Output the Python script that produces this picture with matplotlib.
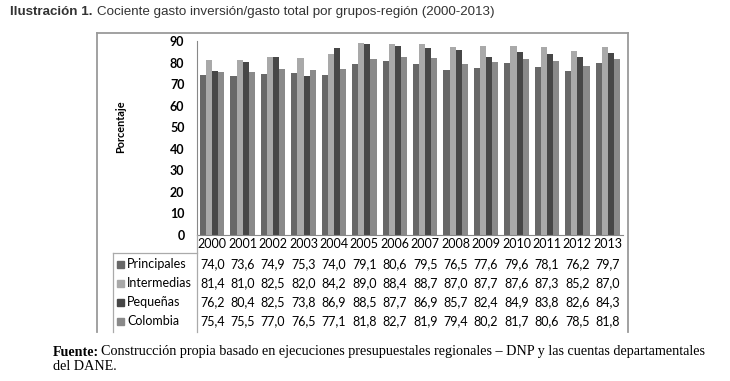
import matplotlib.pyplot as plt
import matplotlib.transforms as mtransforms
from matplotlib.patches import Rectangle
import numpy as np

# Data
years = ['2000', '2001', '2002', '2003', '2004', '2005', '2006',
         '2007', '2008', '2009', '2010', '2011', '2012', '2013']
principales = [74.0, 73.6, 74.9, 75.3, 74.0, 79.1, 80.6, 79.5, 76.5, 77.6, 79.6, 78.1, 76.2, 79.7]
intermedias = [81.4, 81.0, 82.5, 82.0, 84.2, 89.0, 88.4, 88.7, 87.0, 87.7, 87.6, 87.3, 85.2, 87.0]
pequenas = [76.2, 80.4, 82.5, 73.8, 86.9, 88.5, 87.7, 86.9, 85.7, 82.4, 84.9, 83.8, 82.6, 84.3]
colombia = [75.4, 75.5, 77.0, 76.5, 77.1, 81.8, 82.7, 81.9, 79.4, 80.2, 81.7, 80.6, 78.5, 81.8]
series_names = ['Principales', 'Intermedias', 'Pequeñas', 'Colombia']
series = [principales, intermedias, pequenas, colombia]
colors = ['#686868', '#a9a9a9', '#474747', '#8a8a8a']

W, H = 730, 381
fig = plt.figure(figsize=(W / 100, H / 100), dpi=100)
tfont = 'Lato'

def fy(py):
    return 1 - py / H

def fx(px):
    return px / W

# Title
fig.text(fx(10), fy(12), 'Ilustración 1.', fontsize=9.6, fontweight='bold',
         family='Liberation Sans', color='#333333', va='center')
fig.text(fx(97), fy(12), 'Cociente gasto inversión/gasto total por grupos-región (2000-2013)',
         fontsize=9.6, family='Liberation Sans', color='#333333', va='center')

# Chart box (left, top, right)
box_col = '#9a9a9a'
fig.add_artist(plt.Line2D([fx(97), fx(97)], [fy(33), fy(332)], color=box_col, lw=1.3))
fig.add_artist(plt.Line2D([fx(97), fx(628)], [fy(33), fy(33)], color=box_col, lw=1.3))
fig.add_artist(plt.Line2D([fx(628), fx(628)], [fy(33), fy(332)], color=box_col, lw=1.3))

# Bars
ax = fig.add_axes([fx(197), fy(235), fx(623) - fx(197), fy(41) - fy(235)])
x = np.arange(len(years))
bw = 0.2
for i, (vals, c) in enumerate(zip(series, colors)):
    ax.bar(x + (i - 1.5) * bw, vals, width=bw, color=c, edgecolor='none')
ax.set_xlim(-0.5, len(years) - 0.5)
ax.set_ylim(0, 90)
ax.set_yticks(range(0, 91, 10))
ax.set_yticklabels([str(v) for v in range(0, 91, 10)], fontsize=9, fontweight='bold', family=tfont)
ax.tick_params(axis='y', length=0, pad=9)
ax.set_xticks([])
for s in ['top', 'right']:
    ax.spines[s].set_visible(False)
ax.spines['left'].set_color('#888888')
ax.spines['bottom'].set_color('#888888')
fig.text(fx(121), fy(127), 'Porcentaje', rotation=90, fontsize=7.8, fontweight='bold',
         family=tfont, ha='center', va='center')

# Data table
trans = mtransforms.blended_transform_factory(ax.transData, fig.transFigure)
for j, yr in enumerate(years):
    ax.text(j, fy(244), yr, transform=trans, ha='center', va='center',
            fontsize=9, family=tfont, clip_on=False)
row_y = [264, 283, 302, 321]
for name, vals, c, ry in zip(series_names, series, colors, row_y):
    for j, v in enumerate(vals):
        ax.text(j, fy(ry), f'{v:.1f}'.replace('.', ','), transform=trans, ha='center',
                va='center', fontsize=9, family=tfont, clip_on=False)
    fig.add_artist(Rectangle((fx(117), fy(ry + 3.5)), 7 / W, 7 / H, color=c,
                             transform=fig.transFigure))
    fig.text(fx(127), fy(ry), name, fontsize=9, family=tfont, va='center')

line_col = '#aaaaaa'
fig.add_artist(plt.Line2D([fx(197), fx(197)], [fy(235), fy(332)], color=line_col, lw=0.9))
fig.add_artist(plt.Line2D([fx(113), fx(197)], [fy(253), fy(253)], color=line_col, lw=0.9))
fig.add_artist(plt.Line2D([fx(113), fx(113)], [fy(253), fy(332)], color=line_col, lw=0.9))

# Source
src_size = 10.2
fig.text(fx(53), fy(352), 'Fuente:', fontsize=src_size, fontweight='bold',
         family='Liberation Serif', va='center')
fig.text(fx(101), fy(352), 'Construcción propia basado en ejecuciones presupuestales regionales – DNP '
         'y las cuentas departamentales', fontsize=src_size, family='Liberation Serif', va='center')
fig.text(fx(53), fy(366), 'del DANE.', fontsize=src_size, family='Liberation Serif', va='center')

fig.savefig('out.png', dpi=100)
